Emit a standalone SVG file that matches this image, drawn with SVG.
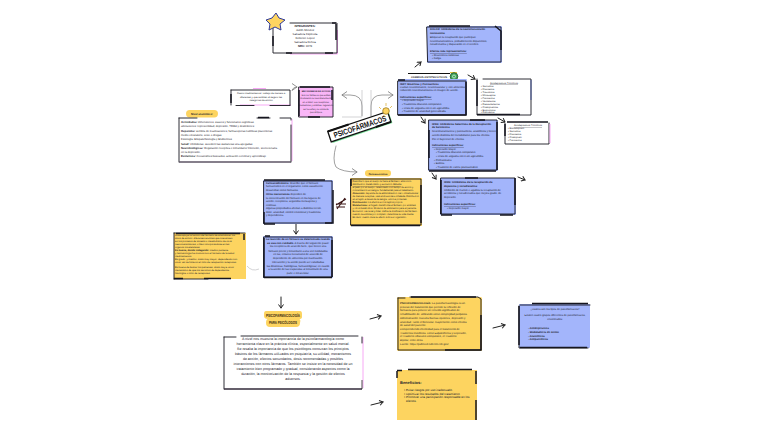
<svg xmlns="http://www.w3.org/2000/svg" width="768" height="431" viewBox="0 0 768 431">
<style>
text{font-family:"Liberation Sans",Arial,sans-serif;font-size:2.800px;fill:#1c1c2a;text-rendering:geometricPrecision}
#nivel text{font-size:2.750px}
#mecanismos text{font-size:2.250px}
#nota text{font-size:2.500px}
#farmacocinetica text{font-size:2.380px}
#nota-amarilla text{font-size:2.500px}
#farmacodinamia text,#interaccion text{font-size:2.650px}
#mecanismo-top text,#isrs text,#irsn text,#irdn text{font-size:2.650px}
#lista-1 text,#lista-2 text{font-size:2.500px}
#psicofarmacologia text{font-size:2.700px}
#tipos text{font-size:2.700px}
#etiqueta text{font-size:2.700px}
#resumen text{font-size:3.550px}
#beneficios text{font-size:3.050px}
.b{font-weight:bold}
.c{text-anchor:middle}
.blue{fill:#a3b5fb}.yel{fill:#fdd460}.wh{fill:#fff}.pink{fill:#f9b6f7}
.ol{stroke:#16161f;stroke-width:.9;fill:none;stroke-linecap:round}
.hv{stroke:#16161f;stroke-width:1.500;fill:none}
.ps{stroke:#f7a8f5;stroke-width:1;fill:none}
.pl{fill:#fdd460}
.con{fill:none;stroke:#222;stroke-width:1;stroke-linecap:round}
.cg{fill:none;stroke:#777;stroke-width:.7;stroke-linecap:round}
.cl{fill:none;stroke:#b5b5b9;stroke-width:.6}
.u{text-decoration:underline}
</style>
<defs>
<marker id="a" markerWidth="6" markerHeight="6" refX="4.500" refY="3" orient="auto" markerUnits="userSpaceOnUse"><path d="M1 .5L4.500 3L1 5.500" fill="none" stroke="#222" stroke-width="1"/></marker>
<marker id="g" markerWidth="8" markerHeight="8" refX="6" refY="4" orient="auto" markerUnits="userSpaceOnUse"><path d="M1 .5L6 4L1 7.500" fill="none" stroke="#777" stroke-width=".8"/></marker>
</defs>
<rect width="768" height="431" fill="#fff"/>

<g id="connectors">
<path class="cg" d="M362 116V106Q362 95 350 95H342" marker-end="url(#g)"/>
<path class="cg" d="M371 116V106Q371 95 382 95H393" marker-end="url(#g)"/>
<path class="cl" d="M342 117H362M371 90V116M362 90V116"/>
<path class="cg" d="M336 146Q332 160 336 167Q342 172 357 172" marker-end="url(#g)" stroke-width="1"/>
<path class="cg" d="M292 90Q293 87 297 87" marker-end="url(#g)"/>
<path class="con" d="M415 67L421 62" marker-end="url(#a)"/>
<path class="con" d="M468 75L475 79" marker-end="url(#a)"/>
<path class="con" d="M421 117L425 123" marker-end="url(#a)"/>
<path class="con" d="M498 118L505 122" marker-end="url(#a)"/>
<path class="con" d="M432 173L436 179" marker-end="url(#a)"/>
<path class="con" d="M518 177L525 180" marker-end="url(#a)"/>
<path class="con" d="M296 224V234" marker-end="url(#a)"/>
<path class="cl" d="M247 266Q252 272 259 269"/>
<path class="con" d="M281 297V308" marker-end="url(#a)"/>
<path class="con" d="M370 319L381 316" marker-end="url(#a)"/>
<path class="con" d="M493 328L505 325" marker-end="url(#a)"/>
<path class="con" d="M371 405L383 402" marker-end="url(#a)"/>
<path d="M336 205L346 199M336 204H346M336 207H345M337 209L345 198" fill="none" stroke="#3a1515" stroke-width="1.100"/>
</g>

<g id="integrantes">
<rect class="wh" x="273" y="23" width="64" height="30"/>
<path class="ps" d="M337.500 30V54H290"/>
<path class="ol" d="M273 27V53H337V23H290"/><path class="hv" d="M273 36V46M286 53H292M325 53H333M332 23H336M336 24V40"/>
<path d="M276 13L279 18L285 20L280 24L281 30L275 27L269 30L270 24L266 20L272 18Z" fill="#fdd460" stroke="#2e3a9a" stroke-width="1"/>
<text class="b c" x="305" y="27">INTEGRANTES:</text>
<text class="c" x="305" y="31">Judith Méndez</text>
<text class="c" x="305" y="35">Salvadora Espinoza</text>
<text class="c" x="305" y="39">Belkelen López</text>
<text class="c" x="305" y="43">Salvadora Ochoa</text>
<text class="c" x="305" y="47"><tspan class="b">NRC:</tspan> 1078</text>
</g>

<g id="nota">
<rect class="wh" x="231" y="89" width="60" height="16"/>
<path class="ps" d="M253 88.500H266M240 105H291"/>
<path class="ol" d="M231 90V105M231 90H290V105M236 105.500H254M270 105.500H290"/><path class="hv" d="M231 94V103"/>
<text class="c" x="261" y="93.500">Cuatro medicamentos: trabajo de manera a</text>
<text class="c" x="261" y="97.500">diferentes y que también al seguro las</text>
<text class="c" x="261" y="101">categorías de acción</text>
</g>

<g id="mecanismos">
<rect class="pink" x="299" y="87" width="34" height="30"/>
<path class="ol" d="M299 87H333V117H299Z"/><path class="hv" d="M299 90V116M308 117H320M332 90V100M300 87H330"/>
<text class="b c" x="316" y="91.500">MECANISMOS DE ACCIÓN</text>
<text class="c" x="316" y="95.500">Son los fármacos que actúan</text>
<text class="c" x="316" y="99">modulando la neurotransmisión</text>
<text class="c" x="316" y="102.500">en el SNC: sus receptores,</text>
<text class="c" x="316" y="106">mediadores y enzimas, regulando</text>
<text class="c" x="316" y="109.500">así la señal y la conducta</text>
<text class="c" x="316" y="113">psicotrópica</text>
</g>

<g id="nivel">
<rect class="pl" x="186" y="110" width="32" height="7.500" rx="3.700"/>
<text class="b c" x="202" y="115">Nivel anatómico:</text>
<rect class="wh" x="179" y="118" width="113" height="44"/>
<path class="ps" d="M292 119V161"/>
<path class="ol" d="M179 118H197M257 118H270M280 118H291V120M179 118V162M291 125V162"/><path d="M179 162H291" stroke="#5e5565" stroke-width="1.300"/><path class="hv" d="M258 117.500H269"/>
<text x="181" y="123"><tspan class="b">Actividades:</tspan> dimensiones, suaves y funcionales cognitivas.</text>
<text x="181" y="127">alteraciones: representidad, depresión, TDAH y desórdenes</text>
<text x="181" y="132"><tspan class="b">Hepatoma:</tspan> sombra de inactivaciones, farmacoperas nutritivas placenteras</text>
<text x="181" y="136">medio circulatorio, sexo o drogas.</text>
<text x="181" y="140">Fisiología: Etiopatofisiología y Endócrinos</text>
<text x="181" y="145"><tspan class="b">Salud:</tspan> inhibidoras, sucedent las sustancias una apegadas</text>
<text x="181" y="149"><tspan class="b">Neurobiológicas:</tspan> Regulación receptiva e inmunitario/ Intención, secrecionaria</text>
<text x="181" y="153">en la depresión.</text>
<text x="181" y="157"><tspan class="b">Evolutivos:</tspan> mecanismos buscados, activación cerebral y aprendizaje</text>
</g>

<g id="psicofarmacos">
<g transform="rotate(-18.500 360 127)">
<rect x="329" y="122.500" width="63" height="11" fill="#7fe7a1"/>
<rect x="328" y="121" width="63" height="11" fill="#fff" stroke="#111" stroke-width="1.300"/>
<path d="M328 121H350M375 132H391" stroke="#111" stroke-width="2"/>
<text class="b c" x="360" y="129.500" style="font-size:8px;fill:#111" textLength="55" lengthAdjust="spacingAndGlyphs">PSICOFÁRMACOS</text>
</g>
<circle cx="386" cy="111" r="3.300" fill="#fdd460" stroke="#8d6d15" stroke-width=".7"/>
<path d="M383 115L386 117M381 109L379 107M386 106V103M390 108L392 106" stroke="#d9a92a" stroke-width=".7"/>
</g>

<g id="mecanismo-top">
<rect class="blue" x="427" y="26" width="75" height="37" rx="1"/>
<path class="ol" d="M427 27H501V62H428Z"/><path class="hv" d="M429 26H470M495 26L501 31V50"/>
<text class="b" x="430" y="30"><tspan>DOLOR: Inhibidores de la neurotransmisión</tspan></text>
<text class="b" x="430" y="34">monoamina</text>
<text x="430" y="38">Bloquean la recaptación que participan</text>
<text x="430" y="41.500">neurotransmisiones, probablemente dopamínico,</text>
<text x="430" y="45">noradrenalina y disparando en el cerebro.</text>
<text class="b u" x="430" y="52">Efectos más representativos:</text>
<text x="432" y="55.500">• Reacciones cutáneas</text>
<text x="432" y="59">• Fatiga</text>
</g>

<g id="etiqueta">
<rect class="wh" x="408" y="73" width="42" height="6"/>
<path d="M408 73.500H450" stroke="#111" stroke-width="1"/>
<path d="M450 72.500H457" stroke="#e8c83a" stroke-width="1"/>
<text class="b c" x="429" y="77.500">CAMBIOS ANTIPSICÓTICOS</text>
<circle cx="454" cy="76.500" r="3.800" fill="#41a75b" stroke="#1e4f2c" stroke-width=".8"/><circle cx="454" cy="76.500" r="1.500" fill="none" stroke="#fff" stroke-width=".6"/>
</g>

<g id="isrs">
<rect class="blue" x="398" y="79" width="69" height="36" rx="1"/>
<path class="ol" d="M398 81H466V115H398Z"/><path class="hv" d="M398 115H466V82M398 80H405"/>
<text class="b" x="400" y="84.500">ISRT: Mostrizas y Psicoactivos</text>
<text x="400" y="88">Cantan neurotronsorio, neuromuscular y, con alimentos</text>
<text x="400" y="91">reducción neurotransmisora en imagen de acción.</text>
<text class="b u" x="400" y="98">Indicaciones específicas:</text>
<text x="402" y="101">• Depresión mayor</text>
<text x="402" y="104.500">• Trastornos obsesivo-compulsivo</text>
<text x="402" y="108.500">• Crisis de angustia con o sin agorafobia</text>
<text x="402" y="112">• Trastorno de ansiedad generalizada</text>
</g>

<g id="lista-1">
<rect class="wh" x="477" y="79" width="55" height="36"/>
<path class="ol" d="M477 79V115H531V79H483"/><path class="hv" d="M477 80V106M477 114.500H520"/>
<path d="M531 80V100" stroke="#4a5a9a" stroke-width="1"/>
<text class="u c" x="504" y="83.500">Antidepresivos Tricíclicos</text>
<text x="481" y="86.500">• Sertralina</text>
<text x="481" y="89.500">• Fluoxetina</text>
<text x="481" y="92.500">• Trazodona</text>
<text x="481" y="95.500">• Mirtazapina</text>
<text x="481" y="98.500">• Paroxetina</text>
<text x="481" y="101.500">• Venlafaxina</text>
<text x="481" y="104.500">• Desvenlafaxina</text>
<text x="481" y="107.500">• Citalopramina</text>
<text x="481" y="110.500">• Bupropiona</text>
<text x="481" y="113">• Duloxetina</text>
</g>

<g id="irsn">
<rect class="blue" x="428" y="120" width="70" height="51" rx="1"/>
<path class="ol" d="M429 120H497V170H429Z"/><path class="hv" d="M497 122V170M429 171H496M429 130V158M470 120H485"/>
<text class="b" x="432" y="124.500">IRSN: Inhibidores Selectivos de la Recaptación</text>
<text class="b" x="432" y="128">de Serotonina</text>
<text x="432" y="132">Neurotransmisores y psicoactivos, ansiolíticos y tienen</text>
<text x="432" y="135.500">acción distintos del metabolismo para los efectos.</text>
<text x="432" y="140">Por el bajo nivel de efectos.</text>
<text class="b u" x="432" y="146">Indicaciones específicas:</text>
<text x="434" y="149.500">• Depresión Mayor</text>
<text x="436" y="153">• Trastornos obsesivo-compulsivo</text>
<text x="436" y="156.500">• Crisis de angustia con o sin agorafobia</text>
<text x="434" y="160.500">• Profesionales</text>
<text x="434" y="164">• Bulimia</text>
<text x="436" y="167.500">• Trastorno de estrés postraumático</text>
</g>

<g id="lista-2">
<rect class="wh" x="505" y="122" width="45" height="22"/>
<path class="ol" d="M505 123V144H549V123"/><path class="hv" d="M507 122H548M505 124V136"/>
<path class="ps" d="M550 124V143" stroke="#d8cdf9"/>
<text class="u c" x="528" y="126">Antidepresivos Tricíclicos</text>
<text x="508" y="129">• Escitalopram</text>
<text x="508" y="132">• Sertralina</text>
<text x="508" y="135">• Fluoxetina</text>
<text x="508" y="138">• Citalopram</text>
<text x="508" y="141">• Paroxetina</text>
</g>

<g id="irdn">
<rect class="blue" x="440" y="178" width="76" height="37" rx="1"/>
<path class="ol" d="M441 178H515V214H441Z"/><path class="hv" d="M441 180V214M441 215H452M500 215H513M515 178V205M465 178H478"/>
<text class="b" x="444" y="183">IRDN: Inhibidores de la recaptación de</text>
<text class="b" x="444" y="187">dopamina y noradrenalina:</text>
<text x="444" y="190.500">Inhibición de Farmin e agudiza la recaptación de</text>
<text x="444" y="194">serotonina y noradrenalina que mejora grado, de</text>
<text x="444" y="197.500">depresión.</text>
<text class="b u" x="444" y="205">Indicaciones específicas:</text>
<text x="447" y="208.500">• Depresión mayor</text>
</g>

<g id="farmacocinetica">
<rect class="pl" x="365" y="170" width="26" height="6.500" rx="3.200"/>
<text class="b c" x="378" y="174.500">Farmacocinética</text>
<rect class="yel" x="350" y="178" width="72" height="48"/>
<path class="ol" d="M351 179H421V225H351Z"/><path class="hv" d="M351 225.500H420M421 185V223M351 179V186"/>
<text x="352.500" y="182">Describe lo que el cuerpo le hace al fármaco: absorción,</text>
<text class="u" x="352.500" y="185">distribución, metabolismo y excreción. Estudia</text>
<text x="352.500" y="188">el paso por el cuerpo, relacionado con tiempo de acción y</text>
<text x="352.500" y="191">concentración en sangre, fundamental para el tratamiento.</text>
<text x="352.500" y="194"><tspan class="b">Absorción:</tspan> depende de la administración oral o intramuscular</text>
<text x="352.500" y="197">de manera receptiva, vías endovenosa e inhalada. Distribución</text>
<text x="352.500" y="200">en el tejido a través de la sangre, unión a proteínas.</text>
<text x="352.500" y="203"><tspan class="b">Distribución:</tspan> los efectos en los tejidos propios.</text>
<text x="352.500" y="206"><tspan class="b">Metabolismo:</tspan> el hígado transforma el fármaco por enzimas</text>
<text x="352.500" y="209">y otros metabolitos. Modelos de eliminación para el paciente.</text>
<text x="352.500" y="212">Excreción: vía renal y biliar, define la dosificación del fármaco</text>
<text x="352.500" y="215">cuando se elimina por completo; determina su vida media.</text>
<text x="352.500" y="218">Es decir, cuanto dura su efecto sobre el organismo.</text>
</g>

<g id="farmacodinamia">
<rect class="blue" x="263" y="180" width="70" height="44" rx="1"/>
<path class="ol" d="M264 181H332V223H264Z"/><path class="hv" d="M264 212V224M264 224H275M325 223H333V190M264 180H325"/>
<text x="266" y="183.500"><tspan class="b">Farmacodinámica:</tspan> describe que el fármaco</text>
<text x="266" y="187">farmacéutico en el organismo, como usualmente</text>
<text x="266" y="190.500">desarrollan como fármacos.</text>
<text x="266" y="195"><tspan class="b">Otros mecanismos</tspan> dependen de</text>
<text x="266" y="198.500">la concentración del fármaco en los lugares de</text>
<text x="266" y="202">acción, receptores, segundos mensajeros y</text>
<text x="266" y="205.500">enzimas.</text>
<text x="266" y="209">Algunas propiedades afectan a distintos nervio,</text>
<text x="266" y="212.500">dolor, ansiedad, control emocional y trastornos</text>
<text x="266" y="216">y dependencia.</text>
</g>

<g id="interaccion">
<rect class="blue" x="263" y="236" width="70" height="42" rx="1"/>
<path class="ol" d="M264 237H332V277H264Z"/><path class="hv" d="M264 277.500H332M332 240V277M264 238V278M265 236H270"/>
<text class="b c" x="298" y="240" textLength="64" lengthAdjust="spacingAndGlyphs">La reacción de un fármaco es determinada cuando</text>
<text class="b c" x="298" y="243.500" textLength="62" lengthAdjust="spacingAndGlyphs">se usa con cuidado.<tspan style="font-weight:normal"> A través del siguiente paso:</tspan></text>
<text class="c" x="298" y="247">los receptores de acuerdo farm., que tienen una</text>
<text class="c" x="298" y="251.500">fármaco precio y inmunitario a una vez modulados</text>
<text class="c" x="298" y="255">en las, enlaces mecanismo de acuerdo de</text>
<text class="c" x="298" y="258.500">dependiente de alimentos por inactivación.</text>
<text class="c" x="298" y="263">Interacción y la acción puede ser estudiadas</text>
<text class="c" x="298" y="266.500">las dinámicas, fisiológicas, farmacológicas; en cuanto</text>
<text class="c" x="298" y="270">a la acción de las respuestas al inmunitario de una</text>
<text class="c" x="298" y="273.500">parte e intracelular.</text>
</g>

<g id="nota-amarilla">
<rect class="yel" x="174" y="233" width="72" height="46"/>
<path class="ol" d="M174 233H245M174 233V279M174 279H208"/><path class="hv" d="M174 278.500H183M204 278.500H231M176 233.500H240M244 234V240"/>
<text x="175" y="236">Actúa apoya la función del fármaco se acumula en los</text>
<text x="175" y="239">sitios de acción: diferentes enzimas que interactúan</text>
<text x="175" y="242">en los procesos de síntesis o metabolismo de otros</text>
<text x="175" y="245">neurotransmisores, o bien incorporándose en las</text>
<text x="175" y="248">órganos intracelulares.</text>
<text x="175" y="251"><tspan class="b">Es buena, donde indagando:</tspan> médico paciente</text>
<text x="175" y="254">y farmacología ha motivos con el fármaco de la salud</text>
<text x="175" y="257">medicamentos.</text>
<text x="175" y="260">Es grado, y médico, dosis muy mayor, dependiendo con</text>
<text x="175" y="263">otros; así se hicieron el ciclo de recaptación receptores.</text>
<text x="175" y="268">Es buena de buscar los pacientes, dosis muy e otros:</text>
<text x="175" y="271">mecanismo de que los servicios de dependencia</text>
<text x="175" y="274">fisiológica o ciclo de receptores.</text>
</g>

<g id="titulo-psico">
<path class="pl" d="M266 311H300Q302 311 302 314V317Q302 319 299 319Q301 319 300 323Q300 327 296 327H270Q266 327 266 323Q266 319 268 319Q264 319 264 316V314Q264 311 266 311Z"/>
<text class="b c" x="283" y="317" style="font-size:4.400px;fill:#3a2a10" textLength="34" lengthAdjust="spacingAndGlyphs">PSICOFARMACOLOGÍA</text>
<text class="b c" x="283" y="324" style="font-size:4.400px;fill:#3a2a10" textLength="28" lengthAdjust="spacingAndGlyphs">PARA PSICÓLOGOS</text>
</g>

<g id="resumen">
<rect class="wh" x="224" y="336" width="139" height="53"/>
<path class="ps" d="M363 337V388"/>
<path class="ol" d="M224 337H236M241 336H358M362 337V343M224 337V389"/><path d="M224 389H362" stroke="#322a3a" stroke-width="1.300"/><path d="M362 389V380" stroke="#222" stroke-width=".8"/>
<text class="c" x="293" y="340">A nivel nos muestra la importancia de la psicofarmacología como</text>
<text class="c" x="293" y="345">herramienta clave en la práctica clínica, especialmente en salud mental.</text>
<text class="c" x="293" y="350">Se resalta la importancia de que los psicólogos conozcan los principios</text>
<text class="c" x="293" y="355">básicos de los fármacos utilizados en psiquiatría, su utilidad, mecanismos</text>
<text class="c" x="293" y="360">de acción, efectos secundarios, dosis recomendadas y posibles</text>
<text class="c" x="293" y="365">interacciones con otros fármacos. También se insiste en la necesidad de un</text>
<text class="c" x="293" y="370">tratamiento bien programado y gradual, considerando aspectos como la</text>
<text class="c" x="293" y="375">duración, la monitorización de la respuesta y la gestión de efectos</text>
<text class="c" x="293" y="380">adversos.</text>
</g>

<g id="psicofarmacologia">
<rect class="yel" x="397" y="297" width="85" height="54" rx="1.500"/>
<path class="ol" d="M398 298H405M410 297H478L481 299V350H398V298"/><path class="hv" d="M481 315V350H445M411 297H476"/>
<text x="400" y="304"><tspan class="b">PSICOFARMACOLOGÍA:</tspan> La psicofarmacología es un</text>
<text x="400" y="307.500">proceso del tratamiento que permite la reflexión de</text>
<text x="400" y="311">fármacos para proveer un remedio significativo de</text>
<text x="400" y="314.500">rehabilitación de, utilizando como complejidad psíquicos.</text>
<text x="400" y="319">Administración: muestra buenas opciones, depresión y</text>
<text x="400" y="322.500">ansiedad. Tanto el bienestar, mayormente como efectos</text>
<text x="400" y="326">de salud del paciente.</text>
<text x="400" y="330">Comprendiendo efectividad para el tratamiento de</text>
<text x="400" y="333.500">Trastornos Psicóticos, como Esquizofrenia y Depresión,</text>
<text x="400" y="337">el Trastorno Obsesivo Compulsivo, el Trastorno</text>
<text x="400" y="340.500">Bipolar, entre otros.</text>
<text x="400" y="344.500">Fuente: https://pubmed.ncbi.nlm.nih.gov/</text>
</g>

<g id="tipos">
<rect class="blue" x="519" y="304" width="71" height="44" rx="1"/>
<path class="ol" d="M520 305H590M519 306V348H588"/><path class="hv" d="M519 306V345M520 347.500H587M532 303.500H588"/>
<text class="c" x="555" y="310">¿Cuáles son los tipos de psicofármacos?</text>
<text class="c" x="555" y="315.500">Existen cuatro grupos diferentes de psicofármacos,</text>
<text class="c" x="555" y="319.500">encontrados:</text>
<text class="b" x="528" y="329">- Antidepresivos</text>
<text class="b" x="528" y="333">- Moduladores de ánimo</text>
<text class="b" x="528" y="336.500">- Ansiolíticos</text>
<text class="b" x="528" y="340">- Antipsicóticos</text>
</g>

<g id="beneficios">
<rect class="yel" x="397" y="370" width="80" height="50"/>
<path class="hv" d="M397 371V378M397 370.500H402M408 369.500H472M476 371V384M476 400V420" stroke="#5d5042"/>
<text class="b" x="400" y="384" style="font-size:4px">Beneficios:</text>
<text x="404" y="390.500">• Evitar riesgos por uso inadecuado.</text>
<text x="404" y="394.500">• Optimizar los resultados del tratamiento.</text>
<text x="404" y="398">• Promover una participación responsable en los</text>
<text x="406" y="401.500">efectos.</text>
</g>
</svg>
